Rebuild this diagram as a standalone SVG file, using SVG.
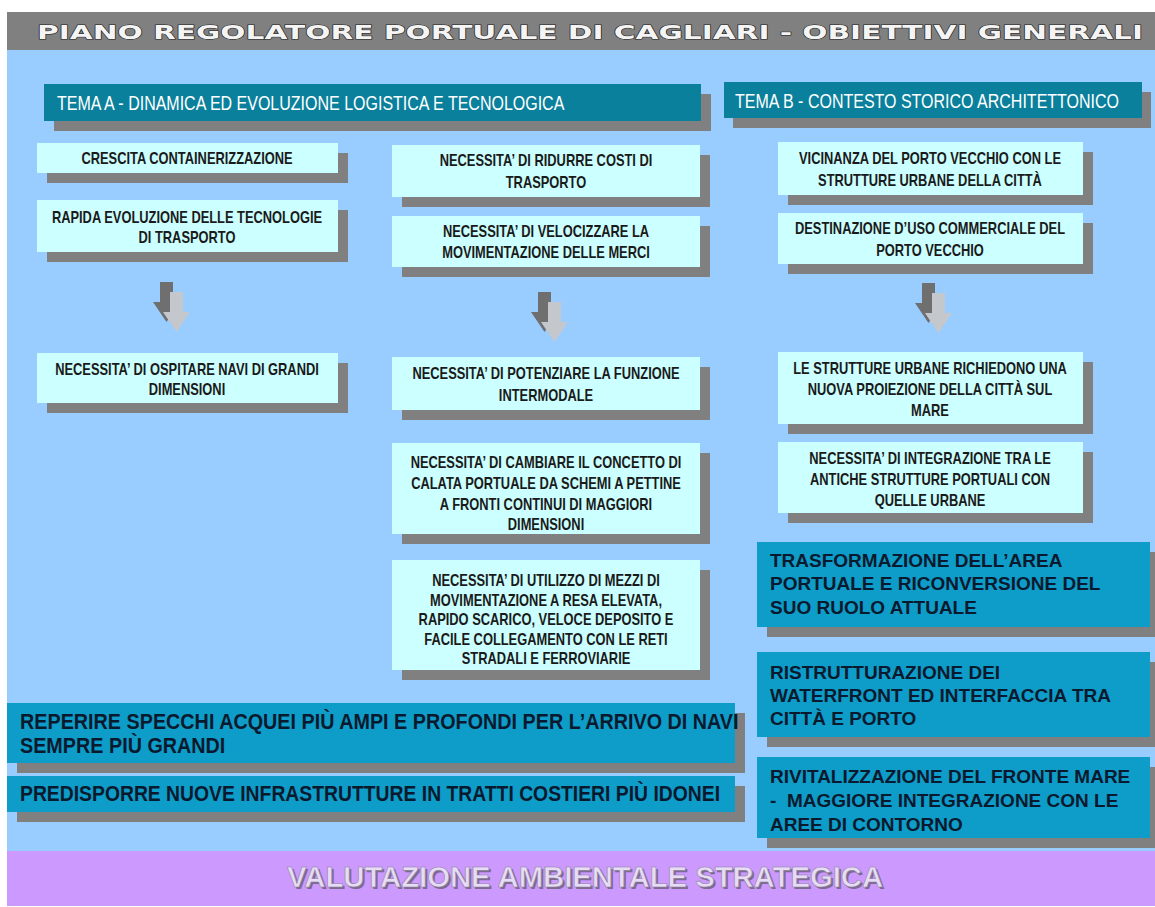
<svg xmlns="http://www.w3.org/2000/svg" width="1155" height="907" viewBox="0 0 1155 907">
<defs>
<style>
.bg{fill:#99ccff}
.sh{fill:#808080}
.cy{fill:#ccffff}
.hd{fill:#0a809c}
.tl{fill:#0e9cc9}
.ct{font-family:"Liberation Sans",Arial,sans-serif;font-weight:bold;font-size:16.5px;fill:#1a1a1a;text-anchor:middle}
.ht{font-family:"Liberation Sans",Arial,sans-serif;font-size:20px;fill:#ffffff}
.bt{font-family:"Liberation Sans",Arial,sans-serif;font-weight:bold;font-size:19px;fill:#0a1a2e}
.lt{font-family:"Liberation Sans",Arial,sans-serif;font-weight:bold;font-size:21.5px;fill:#0a1a2e}
.ad{fill:#6f6f6f}
.al{fill:#c4c8cc}
</style>
<polygon id="arr" points="0,0 13,0 13,20 20,20 6.5,40 -7,20 0,20"/>
</defs>
<rect x="0" y="0" width="1155" height="907" fill="#ffffff"/>
<rect class="bg" x="7" y="50" width="1148" height="802"/>
<rect x="7" y="12" width="1148" height="38" fill="#808080"/>
<text x="37" y="39" textLength="1106" lengthAdjust="spacingAndGlyphs" font-family="DejaVu Sans, sans-serif" font-weight="bold" font-size="19" fill="#f4f4f4" stroke="#1a1a1a" stroke-width="1" paint-order="stroke">PIANO REGOLATORE PORTUALE DI CAGLIARI - OBIETTIVI GENERALI</text>
<rect x="7" y="851" width="1148" height="55" fill="#cc99ff"/>
<text x="289" y="889" textLength="596" lengthAdjust="spacingAndGlyphs" font-family="Liberation Sans, sans-serif" font-weight="bold" font-size="29" fill="#7d6a8f">VALUTAZIONE AMBIENTALE STRATEGICA</text>
<text x="287" y="887" textLength="596" lengthAdjust="spacingAndGlyphs" font-family="Liberation Sans, sans-serif" font-weight="bold" font-size="29" fill="#e6dcf6" stroke="#8f80a0" stroke-width="0.6">VALUTAZIONE AMBIENTALE STRATEGICA</text>

<g id="temaA">
<rect class="sh" x="54" y="94" width="657" height="37"/>
<rect class="hd" x="44" y="84" width="657" height="37"/>
<text class="ht" transform="translate(57 110) scale(0.8 1)">TEMA A - DINAMICA ED EVOLUZIONE LOGISTICA E TECNOLOGICA</text>
</g>
<g id="temaB">
<rect class="sh" x="733" y="92" width="418" height="36"/>
<rect class="hd" x="724" y="82" width="418" height="36"/>
<text class="ht" transform="translate(735 108) scale(0.8 1)">TEMA B - CONTESTO STORICO ARCHITETTONICO</text>
</g>

<g id="a1">
<rect class="sh" x="47" y="153" width="301" height="30"/>
<rect class="cy" x="37" y="143" width="301" height="30"/>
<text class="ct" transform="translate(187 164) scale(0.78 1)">CRESCITA CONTAINERIZZAZIONE</text>
</g>
<g id="a2">
<rect class="sh" x="47" y="210" width="301" height="52"/>
<rect class="cy" x="37" y="200" width="301" height="52"/>
<text class="ct" transform="translate(187 223) scale(0.78 1)">RAPIDA EVOLUZIONE DELLE TECNOLOGIE</text>
<text class="ct" transform="translate(187 243) scale(0.78 1)">DI TRASPORTO</text>
</g>
<g id="a3">
<rect class="sh" x="47" y="363" width="301" height="50"/>
<rect class="cy" x="37" y="353" width="301" height="50"/>
<text class="ct" transform="translate(187 375) scale(0.78 1)">NECESSITA’ DI OSPITARE NAVI DI GRANDI</text>
<text class="ct" transform="translate(187 395) scale(0.78 1)">DIMENSIONI</text>
</g>

<g id="b1">
<rect class="sh" x="402" y="155" width="308" height="52"/>
<rect class="cy" x="392" y="145" width="308" height="52"/>
<text class="ct" transform="translate(546 166) scale(0.78 1)">NECESSITA’ DI RIDURRE COSTI DI</text>
<text class="ct" transform="translate(546 188) scale(0.78 1)">TRASPORTO</text>
</g>
<g id="b2">
<rect class="sh" x="402" y="226" width="308" height="51"/>
<rect class="cy" x="392" y="216" width="308" height="51"/>
<text class="ct" transform="translate(546 237) scale(0.78 1)">NECESSITA’ DI VELOCIZZARE LA</text>
<text class="ct" transform="translate(546 258) scale(0.78 1)">MOVIMENTAZIONE DELLE MERCI</text>
</g>
<g id="b3">
<rect class="sh" x="402" y="367" width="308" height="53"/>
<rect class="cy" x="392" y="357" width="308" height="53"/>
<text class="ct" transform="translate(546 379) scale(0.78 1)">NECESSITA’ DI POTENZIARE LA FUNZIONE</text>
<text class="ct" transform="translate(546 401) scale(0.78 1)">INTERMODALE</text>
</g>
<g id="b4">
<rect class="sh" x="402" y="453" width="308" height="91"/>
<rect class="cy" x="392" y="443" width="308" height="91"/>
<text class="ct" transform="translate(546 468) scale(0.78 1)">NECESSITA’ DI CAMBIARE IL CONCETTO DI</text>
<text class="ct" transform="translate(546 489) scale(0.78 1)">CALATA PORTUALE DA SCHEMI A PETTINE</text>
<text class="ct" transform="translate(546 510) scale(0.78 1)">A FRONTI CONTINUI DI MAGGIORI</text>
<text class="ct" transform="translate(546 530) scale(0.78 1)">DIMENSIONI</text>
</g>
<g id="b5">
<rect class="sh" x="402" y="570" width="308" height="110"/>
<rect class="cy" x="392" y="560" width="308" height="110"/>
<text class="ct" transform="translate(546 586) scale(0.78 1)">NECESSITA’ DI UTILIZZO DI MEZZI DI</text>
<text class="ct" transform="translate(546 606) scale(0.78 1)">MOVIMENTAZIONE A RESA ELEVATA,</text>
<text class="ct" transform="translate(546 625) scale(0.78 1)">RAPIDO SCARICO, VELOCE DEPOSITO E</text>
<text class="ct" transform="translate(546 645) scale(0.78 1)">FACILE COLLEGAMENTO CON LE RETI</text>
<text class="ct" transform="translate(546 664) scale(0.78 1)">STRADALI E FERROVIARIE</text>
</g>

<g id="c1">
<rect class="sh" x="788" y="152" width="305" height="53"/>
<rect class="cy" x="778" y="142" width="305" height="53"/>
<text class="ct" transform="translate(930 164) scale(0.78 1)">VICINANZA DEL PORTO VECCHIO CON LE</text>
<text class="ct" transform="translate(930 186) scale(0.78 1)">STRUTTURE URBANE DELLA CITTÀ</text>
</g>
<g id="c2">
<rect class="sh" x="788" y="223" width="305" height="51"/>
<rect class="cy" x="778" y="213" width="305" height="51"/>
<text class="ct" transform="translate(930 234) scale(0.78 1)">DESTINAZIONE D’USO COMMERCIALE DEL</text>
<text class="ct" transform="translate(930 256) scale(0.78 1)">PORTO VECCHIO</text>
</g>
<g id="c3">
<rect class="sh" x="788" y="362" width="305" height="72"/>
<rect class="cy" x="778" y="352" width="305" height="72"/>
<text class="ct" transform="translate(930 374) scale(0.78 1)">LE STRUTTURE URBANE RICHIEDONO UNA</text>
<text class="ct" transform="translate(930 395) scale(0.78 1)">NUOVA PROIEZIONE DELLA CITTÀ SUL</text>
<text class="ct" transform="translate(930 416) scale(0.78 1)">MARE</text>
</g>
<g id="c4">
<rect class="sh" x="788" y="452" width="305" height="71"/>
<rect class="cy" x="778" y="442" width="305" height="71"/>
<text class="ct" transform="translate(930 464) scale(0.78 1)">NECESSITA’ DI INTEGRAZIONE TRA LE</text>
<text class="ct" transform="translate(930 485) scale(0.78 1)">ANTICHE STRUTTURE PORTUALI CON</text>
<text class="ct" transform="translate(930 506) scale(0.78 1)">QUELLE URBANE</text>
</g>

<g id="d1">
<rect class="sh" x="767" y="552" width="393" height="85"/>
<rect class="tl" x="757" y="542" width="393" height="85"/>
<text class="bt" x="770" y="567">TRASFORMAZIONE DELL’AREA</text>
<text class="bt" x="770" y="590">PORTUALE E RICONVERSIONE DEL</text>
<text class="bt" x="770" y="614">SUO RUOLO ATTUALE</text>
</g>
<g id="d2">
<rect class="sh" x="767" y="662" width="393" height="85"/>
<rect class="tl" x="757" y="652" width="393" height="85"/>
<text class="bt" x="770" y="679">RISTRUTTURAZIONE DEI</text>
<text class="bt" x="770" y="702">WATERFRONT ED INTERFACCIA TRA</text>
<text class="bt" x="770" y="725">CITTÀ E PORTO</text>
</g>
<g id="d3">
<rect class="sh" x="767" y="767" width="393" height="81"/>
<rect class="tl" x="757" y="757" width="393" height="81"/>
<text class="bt" x="770" y="783">RIVITALIZZAZIONE DEL FRONTE MARE</text>
<text class="bt" x="770" y="807" xml:space="preserve">-  MAGGIORE INTEGRAZIONE CON LE</text>
<text class="bt" x="770" y="831">AREE DI CONTORNO</text>
</g>

<g id="e1">
<rect class="sh" x="17" y="713" width="728" height="60"/>
<rect class="tl" x="7" y="703" width="728" height="60"/>
<text class="lt" transform="translate(20 729) scale(0.92 1)">REPERIRE SPECCHI ACQUEI PIÙ AMPI E PROFONDI PER L’ARRIVO DI NAVI</text>
<text class="lt" transform="translate(20 753) scale(0.92 1)">SEMPRE PIÙ GRANDI</text>
</g>
<g id="e2">
<rect class="sh" x="17" y="786" width="728" height="36"/>
<rect class="tl" x="7" y="776" width="728" height="36"/>
<text class="lt" transform="translate(20 801) scale(0.9 1)">PREDISPORRE NUOVE INFRASTRUTTURE IN TRATTI COSTIERI PIÙ IDONEI</text>
</g>

<g id="connectors">
<g transform="translate(160,282)"><use href="#arr" class="ad"/><use href="#arr" class="al" x="10" y="10"/></g>
<g transform="translate(538,292)"><use href="#arr" class="ad"/><use href="#arr" class="al" x="10" y="10"/></g>
<g transform="translate(922,283)"><use href="#arr" class="ad"/><use href="#arr" class="al" x="10" y="10"/></g>
</g>
</svg>
